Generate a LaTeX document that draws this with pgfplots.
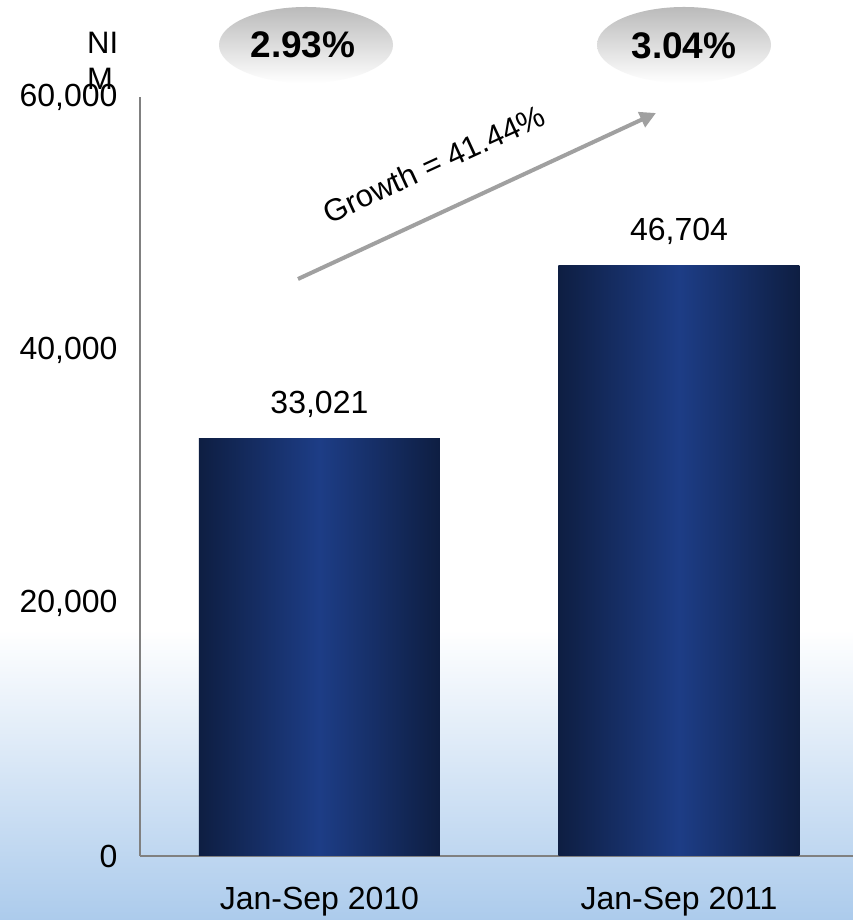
\documentclass[border=0pt]{standalone}
\usepackage{pgfplots}
\pgfplotsset{compat=1.18}
\usepackage{fontspec}
\setmainfont{Liberation Sans}
\usetikzlibrary{arrows.meta}
\definecolor{navyedge}{RGB}{14,30,66}
\definecolor{navymid}{RGB}{29,61,134}
\definecolor{axisgray}{RGB}{128,128,128}
\definecolor{arrowgray}{RGB}{160,160,160}
\definecolor{sky}{RGB}{172,203,236}
\begin{document}
\begin{tikzpicture}[x=1pt,y=1pt]
\useasboundingbox (0,0) rectangle (853,920);
\fill[white] (0,0) rectangle (853,920);
\shade[top color=white, bottom color=sky] (0,0) rectangle (853,290);
\begin{axis}[
  at={(140pt,64pt)}, anchor=south west,
  scale only axis, width=713pt, height=759pt,
  xmin=-0.499, xmax=1.484,
  ymin=0, ymax=60000,
  axis x line=bottom, axis y line=left,
  axis line style={-, draw=axisgray, line width=2pt},
  major tick length=0pt,
  xtick={0,1}, xticklabels={Jan-Sep 2010, Jan-Sep 2011},
  ytick={0,20000,40000,60000},
  scaled y ticks=false,
  /pgf/number format/.cd, 1000 sep={,}, assume math mode=true,
  /pgfplots/.cd,
  tick label style={font=\fontsize{32}{38}\selectfont},
  yticklabel style={xshift=-19pt},
  xticklabel style={yshift=-28pt},
  nodes near coords,
  every node near coord/.append style={font=\fontsize{32}{38}\selectfont, anchor=center, yshift=34pt, text=black},
  clip=false,
]
\addplot[ybar, bar width=241pt, bar shift=0pt, draw=none, shading=axis, left color=navyedge, right color=navyedge, middle color=navymid] coordinates {(0,33021)};
\addplot[ybar, bar width=241pt, bar shift=0pt, draw=none, shading=axis, left color=navyedge, right color=navyedge, middle color=navymid] coordinates {(1,46704)};
\end{axis}
% NIM label
\node[anchor=north west, inner sep=0pt, align=left, font=\fontsize{31}{36}\selectfont] at (87,888) {NI\\M};
% percentage ellipses
\shade[top color=black!27, bottom color=white] (306,875) ellipse [x radius=87, y radius=38];
\shade[top color=black!27, bottom color=white] (684,875) ellipse [x radius=87, y radius=38];
\node[font=\fontsize{37}{40}\selectfont\bfseries] at (303,875) {2.93\%};
\node[font=\fontsize{37}{40}\selectfont\bfseries] at (684,874) {3.04\%};
% growth arrow
\draw[arrowgray, line width=4pt, -{Triangle[length=16pt,width=16pt]}] (298,641) -- (656,807);
\node[rotate=24.7, font=\fontsize{31}{36}\selectfont] at (434,756) {Growth = 41.44\%};
\end{tikzpicture}
\end{document}
